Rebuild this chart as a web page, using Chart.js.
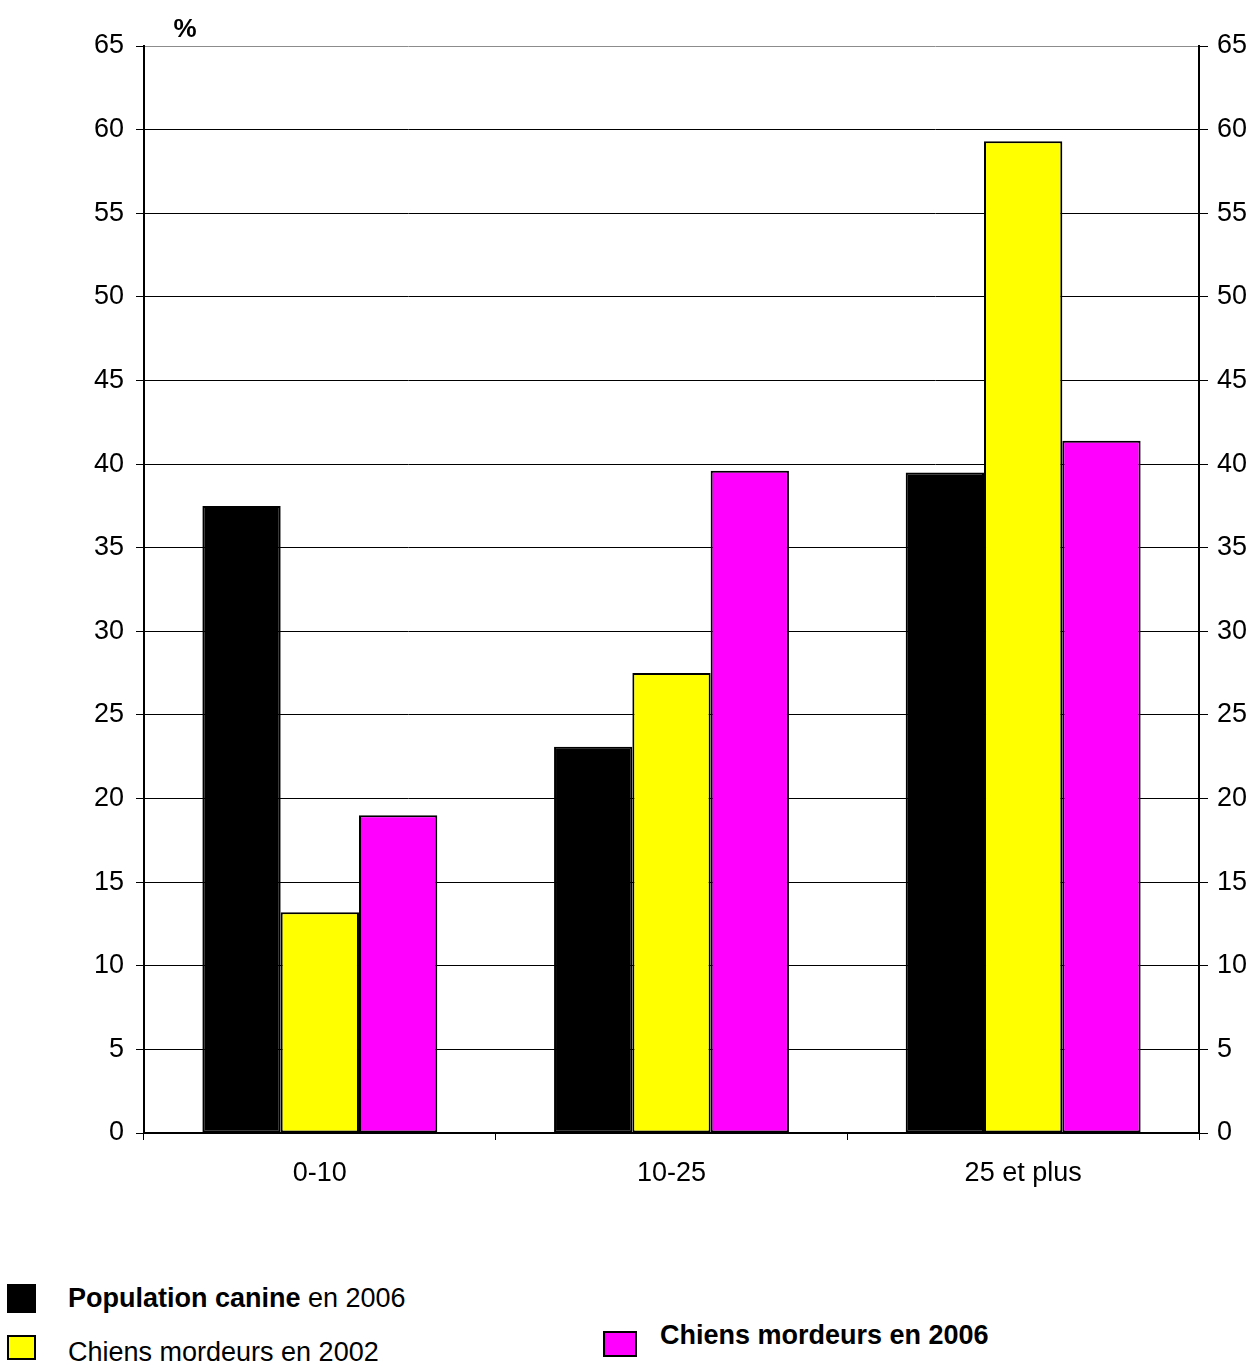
<!DOCTYPE html>
<html>
<head>
<meta charset="utf-8">
<script src="https://cdn.jsdelivr.net/npm/chart.js@4/dist/chart.umd.min.js"></script>
<style>
  html, body { margin: 0; padding: 0; background: #fff; }
  #wrap { position: relative; width: 1253px; height: 1365px; font-family: "Liberation Sans", Arial, sans-serif; color: #000; }
  #chartBox { position: absolute; left: 0; top: 0; width: 1253px; height: 1200px; }
  .lg { position: absolute; font-size: 27px; white-space: nowrap; }
  .sw { position: absolute; box-sizing: border-box; border: 2px solid #000; }
</style>
</head>
<body>
<div id="wrap">
  <div id="chartBox"><canvas id="c"></canvas></div>
</div>
<script>
// Age-class categories (years)
const categories = ['0-10', '10-25', '25 et plus'];

// Share of each group, in %
const populationCanine2006 = [37.5, 23.1, 39.5];
const mordeurs2002 = [13.2, 27.5, 59.3];
const mordeurs2006 = [19.0, 39.6, 41.4];

// Series names: bold part, regular part
const seriesBold = ['Population canine', '', 'Chiens mordeurs en 2006'];
const seriesRest = [' en 2006', 'Chiens mordeurs en 2002', ''];
const seriesColors = ['#000000', '#ffff00', '#ff00ff'];

const yTicks = [0, 5, 10, 15, 20, 25, 30, 35, 40, 45, 50, 55, 60, 65];
const unitLabel = '%';

const FONT = '"Liberation Sans", Arial, sans-serif';
const W = 1253, H = 1200;
const LEFT = 144, RIGHT_W = 54, TOP = 46, BOTTOM_H = H - 1133;

const percentPlugin = {
  id: 'percentLabel',
  afterDraw(chart) {
    const { ctx, chartArea } = chart;
    ctx.save();
    ctx.font = 'bold 26px ' + FONT;
    ctx.fillStyle = '#000';
    ctx.textAlign = 'center';
    ctx.textBaseline = 'alphabetic';
    ctx.fillText(unitLabel, chartArea.left + 41, chartArea.top - 9);
    ctx.restore();
  }
};

const datasets = [populationCanine2006, mordeurs2002, mordeurs2006].map((d, i) => ({
  label: seriesBold[i] + seriesRest[i],
  data: d,
  backgroundColor: seriesColors[i],
  borderColor: '#000',
  borderWidth: 2,
  borderSkipped: false,
  categoryPercentage: 0.668,
  barPercentage: 1.0
}));

const yCommon = {
  min: 0, max: 65,
  afterBuildTicks(axis) { axis.ticks = yTicks.map(v => ({ value: v })); },
  ticks: { color: '#000', font: { family: FONT, size: 27 } },
  border: { display: true, color: '#000', width: 2 }
};

new Chart(document.getElementById('c'), {
  type: 'bar',
  data: { labels: categories, datasets },
  options: {
    responsive: true,
    maintainAspectRatio: false,
    animation: false,
    layout: { padding: { top: TOP, left: 0, right: 0, bottom: 0 } },
    plugins: { legend: { display: false }, tooltip: { enabled: false } },
    scales: {
      x: {
        offset: true,
        grid: { offset: true, drawOnChartArea: false, tickLength: 7, color: '#000', lineWidth: 1 },
        border: { display: true, color: '#000', width: 2 },
        ticks: { color: '#000', padding: 17, font: { family: FONT, size: 27 } },
        afterFit(s) { s.height = BOTTOM_H; }
      },
      y: Object.assign({}, yCommon, {
        position: 'left',
        grid: {
          drawOnChartArea: true, tickLength: 8, lineWidth: 1,
          color: c => (c.tick && c.tick.value === 65 ? '#8c8c8c' : '#000'),
          tickColor: '#000'
        },
        ticks: Object.assign({}, yCommon.ticks, { padding: 12 }),
        afterFit(s) { s.width = LEFT; }
      }),
      y2: Object.assign({}, yCommon, {
        position: 'right',
        grid: { drawOnChartArea: false, tickLength: 9, color: '#000', lineWidth: 1 },
        ticks: Object.assign({}, yCommon.ticks, { padding: 9 }),
        afterFit(s) { s.width = RIGHT_W; }
      })
    }
  },
  plugins: [percentPlugin]
});

// Legend below the chart
const wrap = document.getElementById('wrap');
const legendPos = [
  { sx: 7, sy: 1284, sw: 29, sh: 29, tx: 68, ty: 1283 },
  { sx: 7, sy: 1335, sw: 29, sh: 25, tx: 68, ty: 1337 },
  { sx: 603, sy: 1331, sw: 34, sh: 26, tx: 660, ty: 1320 }
];
legendPos.forEach((p, i) => {
  const sw = document.createElement('div');
  sw.className = 'sw';
  sw.style.cssText = `left:${p.sx}px;top:${p.sy}px;width:${p.sw}px;height:${p.sh}px;background:${seriesColors[i]}`;
  wrap.appendChild(sw);
  const t = document.createElement('div');
  t.className = 'lg';
  t.style.left = p.tx + 'px';
  t.style.top = p.ty + 'px';
  if (seriesBold[i]) {
    const b = document.createElement('b');
    b.textContent = seriesBold[i];
    t.appendChild(b);
  }
  if (seriesRest[i]) t.appendChild(document.createTextNode(seriesRest[i]));
  wrap.appendChild(t);
});
</script>
</body>
</html>
